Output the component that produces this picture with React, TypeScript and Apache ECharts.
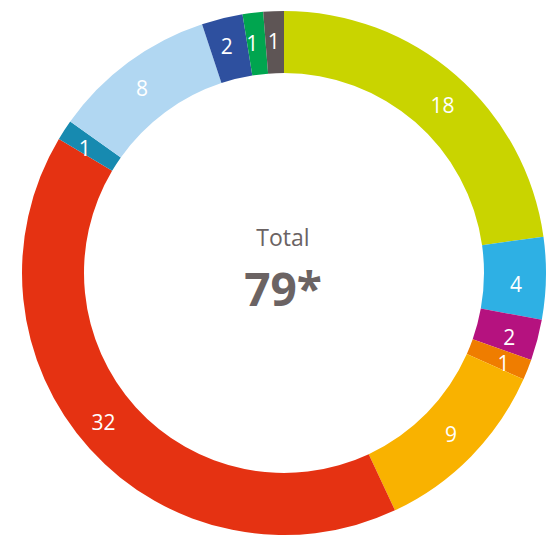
import React, { useEffect, useRef } from "react";
import * as echarts from "echarts";

const categories = ["A", "B", "C", "D", "E", "F", "G", "H", "I", "J", "K"];
const values = [18, 4, 2, 1, 9, 32, 1, 8, 2, 1, 1];
const colors = [
  "#c9d400",
  "#2eb0e4",
  "#b5127f",
  "#ef7d00",
  "#f9b200",
  "#e53212",
  "#178ab0",
  "#b1d7f2",
  "#2e509f",
  "#00a54f",
  "#5e5555",
];
// small visual nudges of the in-ring labels (styling only)
const labelNudge: [number, number][] = [
  [5, 9],
  [-2, 6],
  [-1, 4],
  [2, 4],
  [0, -3],
  [-7, -8],
  [-3, 3],
  [-3, 3],
  [-2, 0],
  [-4, 2],
  [-1, 2],
];
const totalLabel = "Total";
const totalValue = "79*";

export default function App() {
  const ref = useRef<HTMLDivElement>(null);
  useEffect(() => {
    document.body.style.margin = "0";
    const chart = echarts.init(ref.current!, null, { renderer: "svg" });
    chart.setOption({
      animation: false,
      series: [
        {
          type: "pie",
          center: [284, 273],
          radius: [200, 262],
          startAngle: 90,
          clockwise: true,
          avoidLabelOverlap: false,
          data: categories.map((c, i) => ({
            name: c,
            value: values[i],
            itemStyle: { color: colors[i] },
            label: { offset: labelNudge[i] },
          })),
          label: {
            show: true,
            position: "inside",
            formatter: "{c}",
            color: "#ffffff",
            fontFamily: "Open Sans",
            fontSize: 21,
          },
          labelLine: { show: false },
          emphasis: { disabled: true },
        },
      ],
      graphic: [
        {
          type: "text",
          x: 283,
          y: 237,
          style: {
            text: totalLabel,
            fontFamily: "Open Sans",
            fontSize: 23,
            fill: "#6b6363",
            align: "center",
            verticalAlign: "middle",
          },
        },
        {
          type: "text",
          x: 283,
          y: 288,
          style: {
            text: totalValue,
            fontFamily: "Open Sans",
            fontSize: 46,
            fontWeight: "bold",
            fill: "#6b6363",
            align: "center",
            verticalAlign: "middle",
          },
        },
      ],
    });
    return () => chart.dispose();
  }, []);
  return (
    <div
      ref={ref}
      style={{ width: 547, height: 538, position: "absolute", left: 0, top: 0 }}
    />
  );
}
